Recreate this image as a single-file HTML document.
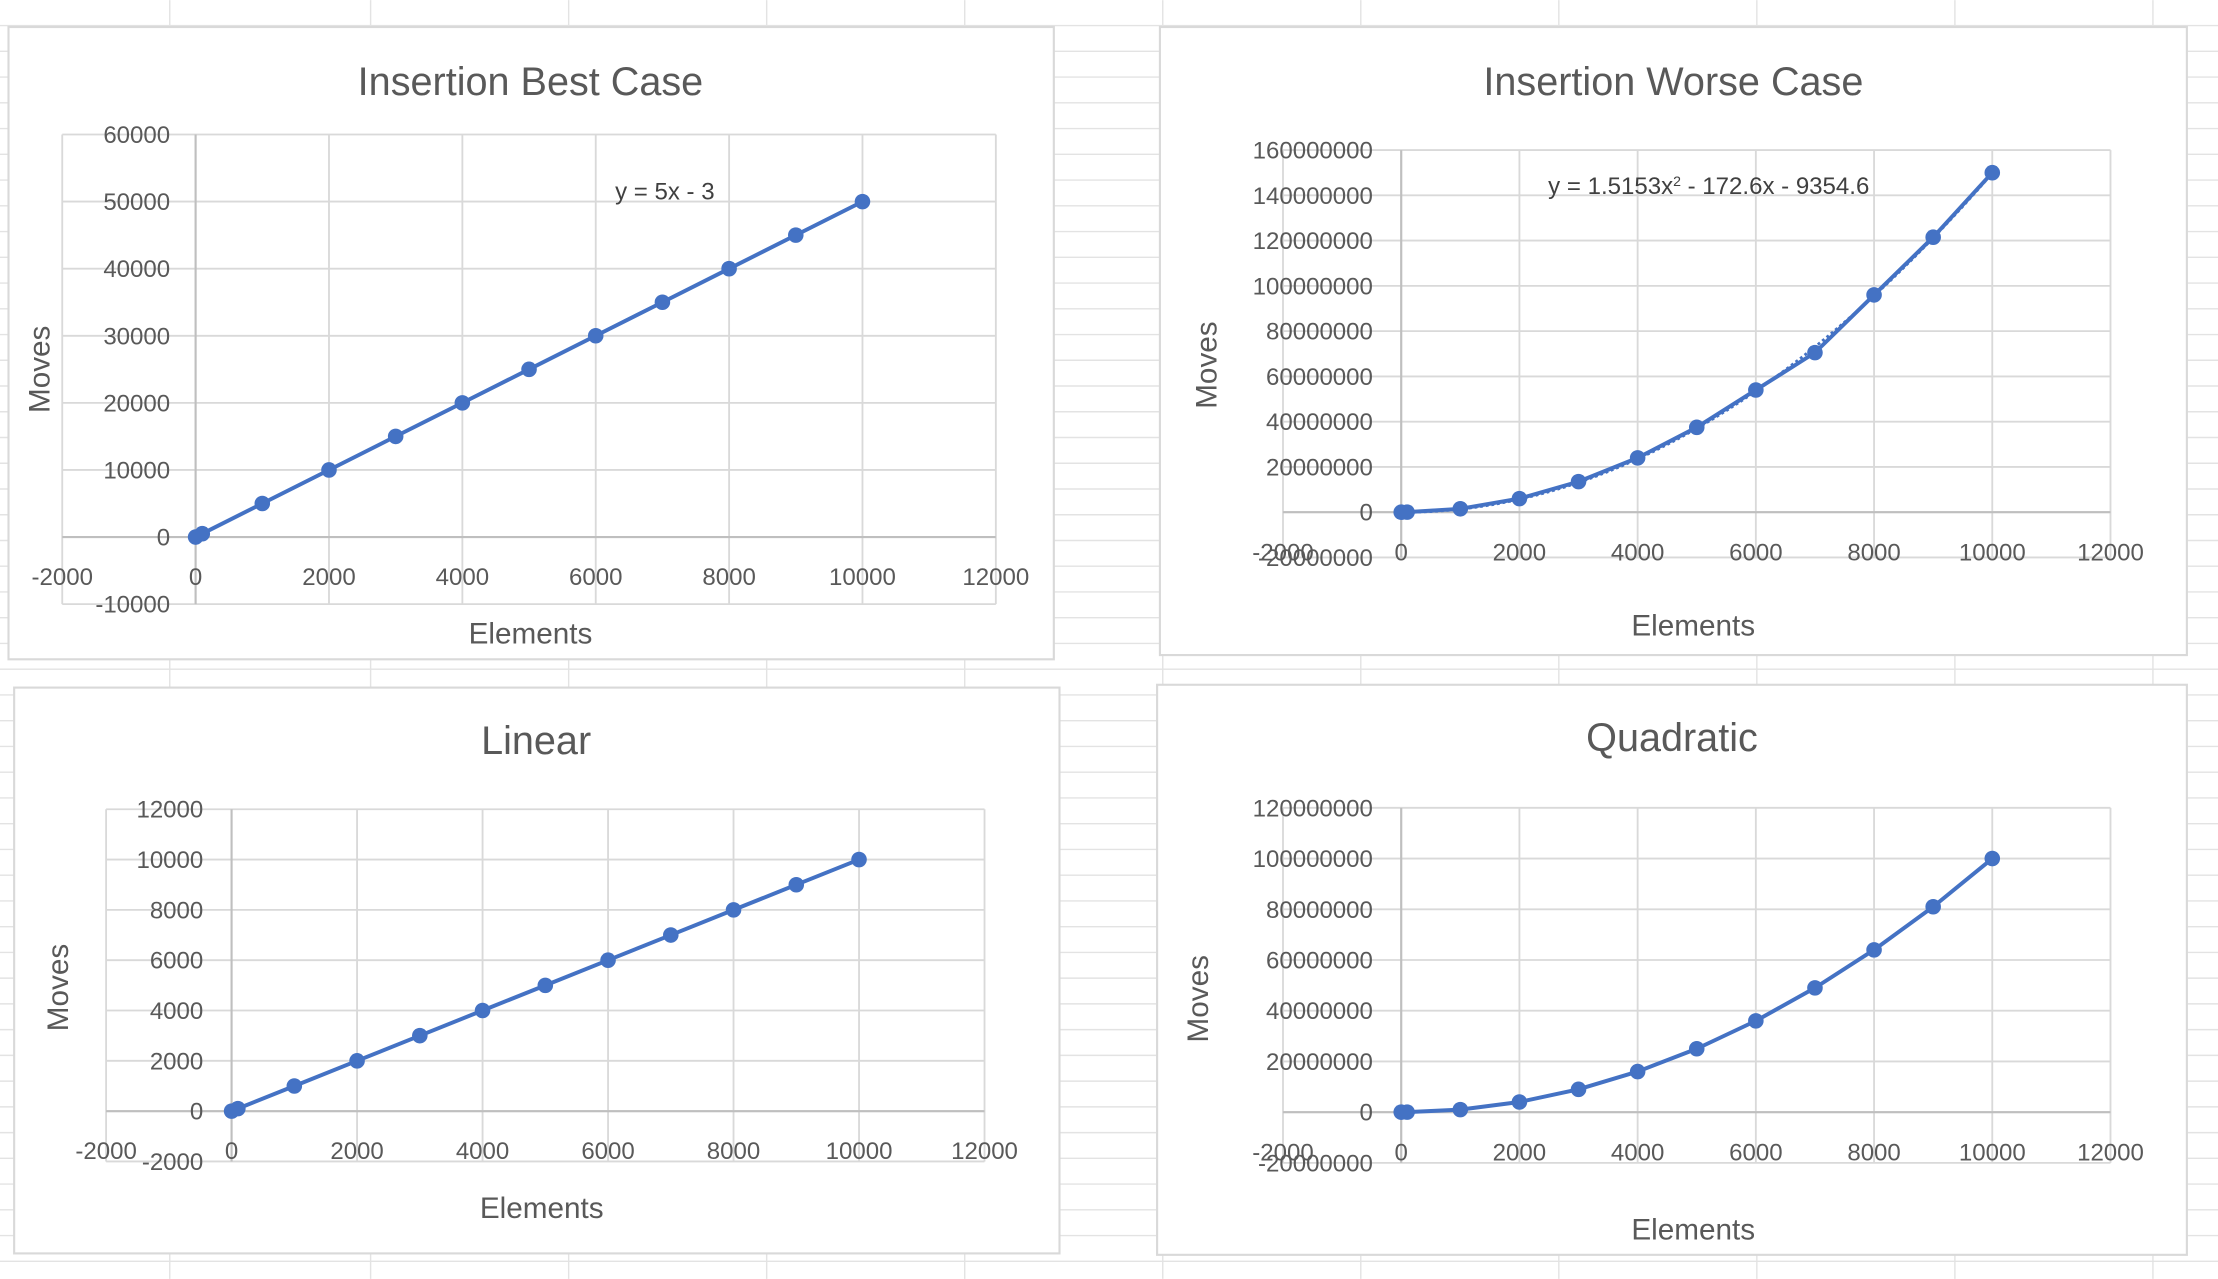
<!DOCTYPE html>
<html><head><meta charset="utf-8"><style>
html,body{margin:0;padding:0;background:#fff;overflow:hidden}
svg{display:block;font-family:"Liberation Sans",sans-serif}
</style></head><body>
<svg id="s" width="2218" height="1279" viewBox="0 0 1568 904" xmlns="http://www.w3.org/2000/svg">
<g id="bg"></g>
</svg>
<script>
const NS="http://www.w3.org/2000/svg";
const svg=document.getElementById('s');
const bg=document.getElementById('bg');
function el(tag,attrs,parent,text){const e=document.createElementNS(NS,tag);for(const k in attrs)e.setAttribute(k,attrs[k]);if(text!==undefined)e.textContent=text;(parent||svg).appendChild(e);return e;}
for(let y=18;y<904;y+=18.2){el('line',{x1:0,x2:1568,y1:y,y2:y,stroke:'#e3e3e3','stroke-width':1},bg);}
[120,262,402,542,682,822,962,1102,1242,1382,1522].forEach(x=>el('line',{x1:x,x2:x,y1:0,y2:904,stroke:'#e3e3e3','stroke-width':1},bg));

const elementsX=[0,100,1000,2000,3000,4000,5000,6000,7000,8000,9000,10000];
const bestMoves=[0,500,5000,10000,15000,20000,25000,30000,35000,40000,45000,50000];
const worstMoves=[0,15000,1500000,6000000,13500000,24000000,37500000,54000000,70500000,96000000,121500000,150000000];
const linearMoves=[0,100,1000,2000,3000,4000,5000,6000,7000,8000,9000,10000];
const quadMoves=[0,10000,1000000,4000000,9000000,16000000,25000000,36000000,49000000,64000000,81000000,100000000];
const xTicks=[-2000,0,2000,4000,6000,8000,10000,12000];
const yTicksBest=[-10000,0,10000,20000,30000,40000,50000,60000];
const yTicksWorst=[-20000000,0,20000000,40000000,60000000,80000000,100000000,120000000,140000000,160000000];
const yTicksLinear=[-2000,0,2000,4000,6000,8000,10000,12000];
const yTicksQuad=[-20000000,0,20000000,40000000,60000000,80000000,100000000,120000000];

function chart(o){
  const g=el('g',{},svg);
  
  
  const box=el('rect',{x:o.box[0],y:o.box[1],width:o.box[2]-o.box[0],height:o.box[3]-o.box[1],fill:'#fff',stroke:'#d9d9d9','stroke-width':1.5},g);
  
  
  const [px0,py0,px1,py1]=o.plot;
  const xmin=xTicks[0],xmax=xTicks[xTicks.length-1];
  const yt=o.yTicks,ymin=yt[0],ymax=yt[yt.length-1];
  const sx=v=>px0+(v-xmin)/(xmax-xmin)*(px1-px0);
  const sy=v=>py1-(v-ymin)/(ymax-ymin)*(py1-py0);
  xTicks.forEach(t=>{const l=el('line',{x1:sx(t),x2:sx(t),y1:py0,y2:py1,stroke:'#d9d9d9','stroke-width':1.3},g);});
  yt.forEach(t=>{const l=el('line',{x1:px0,x2:px1,y1:sy(t),y2:sy(t),stroke:'#d9d9d9','stroke-width':1.3},g);});
  const ax=el('line',{x1:px0,x2:px1,y1:sy(0),y2:sy(0),stroke:'#bfbfbf','stroke-width':1.5},g);
  const ay=el('line',{x1:sx(0),x2:sx(0),y1:py0,y2:py1,stroke:'#bfbfbf','stroke-width':1.5},g);
  xTicks.forEach(t=>{const tx=el('text',{x:sx(t),y:sy(0)+o.xlabDy,'text-anchor':'middle','font-size':17,fill:'#595959'},g,String(t));});
  yt.forEach(t=>{const tx=el('text',{x:sx(0)-o.ylabDx,y:sy(t)+6,'text-anchor':'end','font-size':17,fill:'#595959'},g,String(t));});
  const ti=el('text',{x:o.title[0],y:o.title[1],'text-anchor':'middle','font-size':28,fill:'#595959'},g,o.titleText);
  const xt=el('text',{x:o.xt[0],y:o.xt[1],'text-anchor':'middle','font-size':21,fill:'#595959'},g,'Elements');
  const ytt=el('text',{x:0,y:0,'text-anchor':'middle','font-size':21,fill:'#595959',transform:`translate(${o.yt[0]},${o.yt[1]}) rotate(-90)`},g,'Moves');
  if(o.eq){const e=el('text',{x:o.eq[0],y:o.eq[1],'text-anchor':'middle','font-size':17,fill:'#404040'},g);
    e.innerHTML=o.eqHtml;}
  const ys=o.values;
  if(o.trend){const pts=[];for(let i=0;i<=40;i++){const x=i*250;pts.push(sx(x)+','+sy(o.trend(x)));}
    const tl=el('polyline',{points:pts.join(' '),fill:'none',stroke:'#4472c4','stroke-width':2,'stroke-dasharray':'2,2'},g);}
  const line=el('polyline',{points:elementsX.map((x,i)=>sx(x)+','+sy(ys[i])).join(' '),fill:'none',stroke:'#4472c4','stroke-width':2.8,'stroke-linejoin':'round'},g);
  
  elementsX.forEach((x,i)=>{const c=el('circle',{cx:sx(x),cy:sy(ys[i]),r:5.5,fill:'#4472c4'},g);});
}
chart({name:'insertion-best-case-chart',box:[6,19,745,466],plot:[44,95,704,427],yTicks:yTicksBest,values:bestMoves,titleText:'Insertion Best Case',title:[375,67],xt:[375,455],yt:[35,261],xlabDy:34,ylabDx:18,eq:[470,141],eqHtml:'y = 5x - 3'});
chart({name:'insertion-worse-case-chart',box:[820,19,1546,463],plot:[907,106,1492,394],yTicks:yTicksWorst,values:worstMoves,titleText:'Insertion Worse Case',title:[1183,67],xt:[1197,449],yt:[860,258],xlabDy:34,ylabDx:20,eq:[1208,137],eqHtml:'y = 1.5153x<tspan baseline-shift="super" font-size="10">2</tspan> - 172.6x - 9354.6',trend:x=>1.5153*x*x-172.6*x-9354.6});
chart({name:'linear-chart',box:[10,486,749,886],plot:[75,572,696,821],yTicks:yTicksLinear,values:linearMoves,titleText:'Linear',title:[379,533],xt:[383,861],yt:[48,698],xlabDy:34,ylabDx:20});
chart({name:'quadratic-chart',box:[818,484,1546,887],plot:[907,571,1492,822],yTicks:yTicksQuad,values:quadMoves,titleText:'Quadratic',title:[1182,531],xt:[1197,876],yt:[854,706],xlabDy:34,ylabDx:20});
</script>
</body></html>
